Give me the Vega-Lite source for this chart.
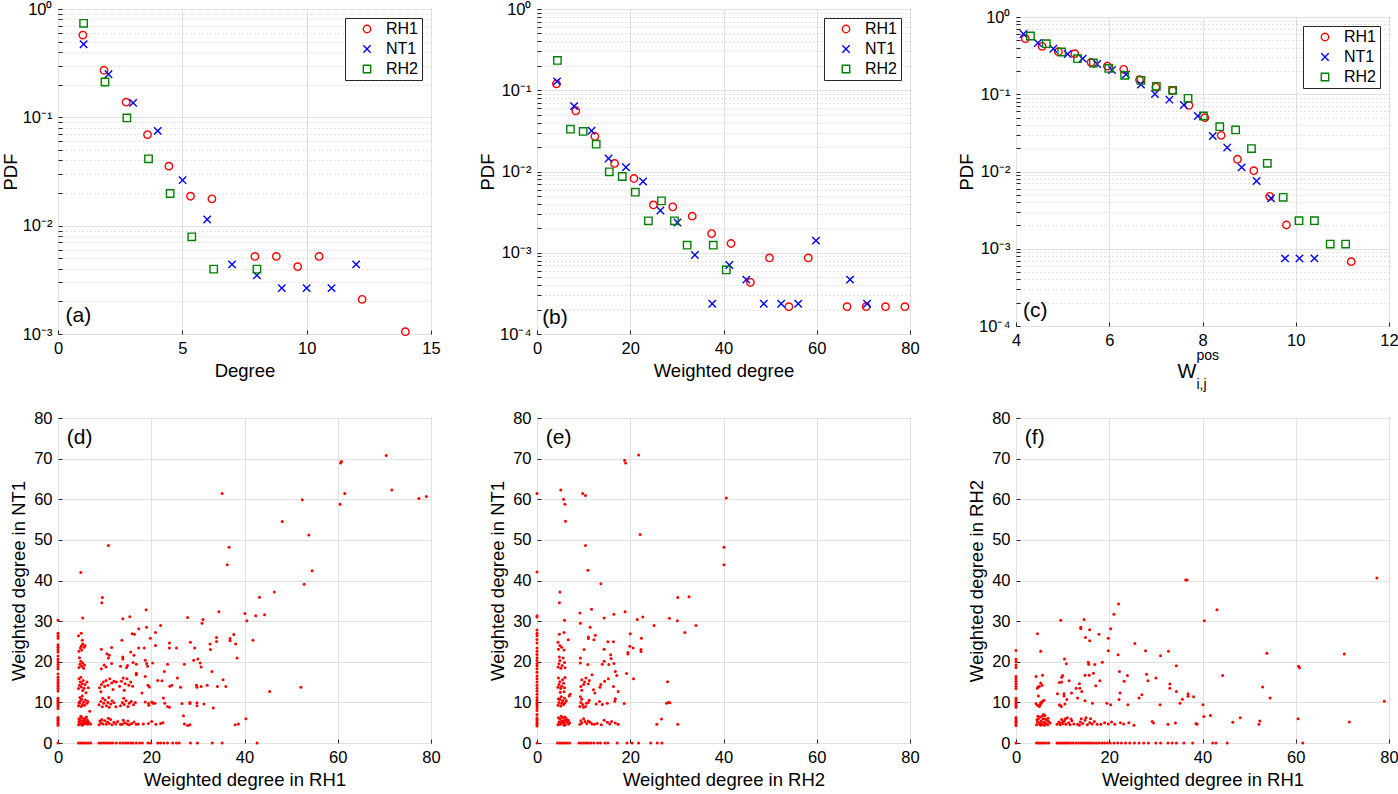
{
"$schema": "https://vega.github.io/schema/vega-lite/v6.json",
"padding": {"left": 0, "top": 0, "right": 0, "bottom": 0},
"config": {
  "font": "Liberation Sans",
  "view": {"stroke": "#262626", "strokeWidth": 1},
  "axis": {"domain": false, "labelFont": "Liberation Sans", "titleFont": "Liberation Sans", "labelFontSize": 16.5, "titleFontSize": 18.5, "titleFontWeight": "normal", "labelColor": "#000000", "titleColor": "#000000", "tickColor": "#262626", "tickSize": -4, "labelPadding": 10, "titlePadding": 5, "gridColor": "#e1e1e1", "gridWidth": 1, "labelFlush": false, "labelOverlap": false},
  "legend": {"labelFont": "Liberation Sans", "labelFontSize": 16, "labelColor": "#000000"}
},
"datasets": {
"pdf": [
{"p":"a","s":"RH1","x":1.0,"y":0.575},{"p":"a","s":"RH1","x":1.85,"y":0.272},{"p":"a","s":"RH1","x":2.74,"y":0.138},{"p":"a","s":"RH1","x":3.6,"y":0.0693},{"p":"a","s":"RH1","x":4.46,"y":0.0354},{"p":"a","s":"RH1","x":5.33,"y":0.0187},{"p":"a","s":"RH1","x":6.19,"y":0.0177},{"p":"a","s":"RH1","x":7.92,"y":0.0052},{"p":"a","s":"RH1","x":8.78,"y":0.0052},{"p":"a","s":"RH1","x":9.64,"y":0.00418},{"p":"a","s":"RH1","x":10.5,"y":0.0052},{"p":"a","s":"RH1","x":12.23,"y":0.00209},{"p":"a","s":"RH1","x":13.97,"y":0.00105},
{"p":"a","s":"NT1","x":1.03,"y":0.472},{"p":"a","s":"NT1","x":2.03,"y":0.25},{"p":"a","s":"NT1","x":3.02,"y":0.136},{"p":"a","s":"NT1","x":4.01,"y":0.075},{"p":"a","s":"NT1","x":5.01,"y":0.0263},{"p":"a","s":"NT1","x":6.0,"y":0.0114},{"p":"a","s":"NT1","x":7.0,"y":0.00439},{"p":"a","s":"NT1","x":8.0,"y":0.00348},{"p":"a","s":"NT1","x":9.0,"y":0.00265},{"p":"a","s":"NT1","x":10.0,"y":0.00265},{"p":"a","s":"NT1","x":11.0,"y":0.00265},{"p":"a","s":"NT1","x":11.99,"y":0.00439},
{"p":"a","s":"RH2","x":1.03,"y":0.738},{"p":"a","s":"RH2","x":1.89,"y":0.212},{"p":"a","s":"RH2","x":2.77,"y":0.0988},{"p":"a","s":"RH2","x":3.64,"y":0.0414},{"p":"a","s":"RH2","x":4.51,"y":0.0198},{"p":"a","s":"RH2","x":5.38,"y":0.00789},{"p":"a","s":"RH2","x":6.26,"y":0.00397},{"p":"a","s":"RH2","x":8.0,"y":0.00397},
{"p":"b","s":"RH1","x":4.16,"y":0.12},{"p":"b","s":"RH1","x":8.32,"y":0.0559},{"p":"b","s":"RH1","x":12.41,"y":0.027},{"p":"b","s":"RH1","x":16.64,"y":0.01256},{"p":"b","s":"RH1","x":20.8,"y":0.0082},{"p":"b","s":"RH1","x":24.96,"y":0.00388},{"p":"b","s":"RH1","x":29.12,"y":0.00367},{"p":"b","s":"RH1","x":33.29,"y":0.00282},{"p":"b","s":"RH1","x":37.45,"y":0.00172},{"p":"b","s":"RH1","x":41.61,"y":0.0013},{"p":"b","s":"RH1","x":45.77,"y":0.000433},{"p":"b","s":"RH1","x":49.86,"y":0.000863},{"p":"b","s":"RH1","x":54.02,"y":0.000217},{"p":"b","s":"RH1","x":58.18,"y":0.000863},{"p":"b","s":"RH1","x":66.5,"y":0.000217},{"p":"b","s":"RH1","x":70.6,"y":0.000217},{"p":"b","s":"RH1","x":74.75,"y":0.000217},{"p":"b","s":"RH1","x":78.9,"y":0.000217},
{"p":"b","s":"NT1","x":4.3,"y":0.1285},{"p":"b","s":"NT1","x":7.96,"y":0.0638},{"p":"b","s":"NT1","x":11.7,"y":0.0317},{"p":"b","s":"NT1","x":15.35,"y":0.01446},{"p":"b","s":"NT1","x":19.08,"y":0.0113},{"p":"b","s":"NT1","x":22.74,"y":0.00753},{"p":"b","s":"NT1","x":26.47,"y":0.00331},{"p":"b","s":"NT1","x":30.13,"y":0.00236},{"p":"b","s":"NT1","x":33.86,"y":0.00094},{"p":"b","s":"NT1","x":37.59,"y":0.000236},{"p":"b","s":"NT1","x":41.25,"y":0.000708},{"p":"b","s":"NT1","x":44.9,"y":0.000467},{"p":"b","s":"NT1","x":48.64,"y":0.000236},{"p":"b","s":"NT1","x":52.37,"y":0.000236},{"p":"b","s":"NT1","x":56.03,"y":0.000236},{"p":"b","s":"NT1","x":59.83,"y":0.00141},{"p":"b","s":"NT1","x":67.14,"y":0.000467},{"p":"b","s":"NT1","x":70.8,"y":0.000236},
{"p":"b","s":"RH2","x":4.38,"y":0.233},{"p":"b","s":"RH2","x":7.17,"y":0.0332},{"p":"b","s":"RH2","x":9.9,"y":0.0311},{"p":"b","s":"RH2","x":12.7,"y":0.0217},{"p":"b","s":"RH2","x":15.5,"y":0.0099},{"p":"b","s":"RH2","x":18.29,"y":0.00868},{"p":"b","s":"RH2","x":21.09,"y":0.00556},{"p":"b","s":"RH2","x":23.89,"y":0.00247},{"p":"b","s":"RH2","x":26.69,"y":0.00435},{"p":"b","s":"RH2","x":29.48,"y":0.00247},{"p":"b","s":"RH2","x":32.2,"y":0.00124},{"p":"b","s":"RH2","x":37.8,"y":0.00124},{"p":"b","s":"RH2","x":40.6,"y":0.000615},
{"p":"c","s":"RH1","x":4.2,"y":0.524},{"p":"c","s":"RH1","x":4.56,"y":0.417},{"p":"c","s":"RH1","x":4.91,"y":0.356},{"p":"c","s":"RH1","x":5.26,"y":0.335},{"p":"c","s":"RH1","x":5.61,"y":0.259},{"p":"c","s":"RH1","x":5.96,"y":0.232},{"p":"c","s":"RH1","x":6.31,"y":0.21},{"p":"c","s":"RH1","x":6.65,"y":0.1545},{"p":"c","s":"RH1","x":7.0,"y":0.124},{"p":"c","s":"RH1","x":7.36,"y":0.1112},{"p":"c","s":"RH1","x":7.71,"y":0.0719},{"p":"c","s":"RH1","x":8.05,"y":0.0497},{"p":"c","s":"RH1","x":8.4,"y":0.0294},{"p":"c","s":"RH1","x":8.75,"y":0.0144},{"p":"c","s":"RH1","x":9.1,"y":0.01025},{"p":"c","s":"RH1","x":9.44,"y":0.00477},{"p":"c","s":"RH1","x":9.8,"y":0.00203},{"p":"c","s":"RH1","x":11.19,"y":0.00068},
{"p":"c","s":"NT1","x":4.16,"y":0.603},{"p":"c","s":"NT1","x":4.47,"y":0.46},{"p":"c","s":"NT1","x":4.8,"y":0.389},{"p":"c","s":"NT1","x":5.11,"y":0.332},{"p":"c","s":"NT1","x":5.43,"y":0.289},{"p":"c","s":"NT1","x":5.74,"y":0.246},{"p":"c","s":"NT1","x":6.06,"y":0.206},{"p":"c","s":"NT1","x":6.36,"y":0.181},{"p":"c","s":"NT1","x":6.68,"y":0.134},{"p":"c","s":"NT1","x":6.98,"y":0.1007},{"p":"c","s":"NT1","x":7.29,"y":0.0851},{"p":"c","s":"NT1","x":7.6,"y":0.0726},{"p":"c","s":"NT1","x":7.9,"y":0.0523},{"p":"c","s":"NT1","x":8.22,"y":0.0288},{"p":"c","s":"NT1","x":8.53,"y":0.0204},{"p":"c","s":"NT1","x":8.84,"y":0.0113},{"p":"c","s":"NT1","x":9.16,"y":0.00754},{"p":"c","s":"NT1","x":9.47,"y":0.0045},{"p":"c","s":"NT1","x":9.77,"y":0.00075},{"p":"c","s":"NT1","x":10.08,"y":0.00075},{"p":"c","s":"NT1","x":10.4,"y":0.00075},
{"p":"c","s":"RH2","x":4.31,"y":0.568},{"p":"c","s":"RH2","x":4.65,"y":0.452},{"p":"c","s":"RH2","x":4.98,"y":0.352},{"p":"c","s":"RH2","x":5.32,"y":0.289},{"p":"c","s":"RH2","x":5.66,"y":0.254},{"p":"c","s":"RH2","x":5.99,"y":0.216},{"p":"c","s":"RH2","x":6.33,"y":0.176},{"p":"c","s":"RH2","x":6.68,"y":0.151},{"p":"c","s":"RH2","x":7.01,"y":0.1265},{"p":"c","s":"RH2","x":7.36,"y":0.1124},{"p":"c","s":"RH2","x":7.69,"y":0.0885},{"p":"c","s":"RH2","x":8.02,"y":0.0523},{"p":"c","s":"RH2","x":8.37,"y":0.038},{"p":"c","s":"RH2","x":8.71,"y":0.0345},{"p":"c","s":"RH2","x":9.05,"y":0.0198},{"p":"c","s":"RH2","x":9.39,"y":0.01276},{"p":"c","s":"RH2","x":9.73,"y":0.00463},{"p":"c","s":"RH2","x":10.07,"y":0.00231},{"p":"c","s":"RH2","x":10.4,"y":0.00231},{"p":"c","s":"RH2","x":10.74,"y":0.00115},{"p":"c","s":"RH2","x":11.07,"y":0.00115}
],
"sc": [
{"p":"d","x":0,"y":0},{"p":"d","x":0,"y":4.4},{"p":"d","x":0,"y":4.8},{"p":"d","x":0,"y":5.2},{"p":"d","x":0,"y":5.6},{"p":"d","x":0,"y":6.0},{"p":"d","x":0,"y":6.3},{"p":"d","x":0,"y":8.5},{"p":"d","x":0,"y":9.0},{"p":"d","x":0,"y":9.4},{"p":"d","x":0,"y":9.8},{"p":"d","x":0,"y":10.2},{"p":"d","x":0,"y":10.6},{"p":"d","x":0,"y":11.0},{"p":"d","x":0,"y":12.8},{"p":"d","x":0,"y":13.4},{"p":"d","x":0,"y":14.0},{"p":"d","x":0,"y":14.5},{"p":"d","x":0,"y":15.0},{"p":"d","x":0,"y":15.6},{"p":"d","x":0,"y":16.2},{"p":"d","x":0,"y":17.0},{"p":"d","x":0,"y":18.2},{"p":"d","x":0,"y":18.8},{"p":"d","x":0,"y":19.4},{"p":"d","x":0,"y":20.0},{"p":"d","x":0,"y":20.6},{"p":"d","x":0,"y":21.4},{"p":"d","x":0,"y":22.4},{"p":"d","x":0,"y":23.0},{"p":"d","x":0,"y":23.6},{"p":"d","x":0,"y":24.2},{"p":"d","x":0,"y":25.8},{"p":"d","x":0,"y":26.4},{"p":"d","x":0,"y":27.0},{"p":"d","x":0,"y":30.2},
{"p":"d","x":4.4,"y":0},{"p":"d","x":4.8,"y":0},{"p":"d","x":5.2,"y":0},{"p":"d","x":5.6,"y":0},{"p":"d","x":6.0,"y":0},{"p":"d","x":6.5,"y":0},{"p":"d","x":7.0,"y":0},{"p":"d","x":8.8,"y":0},{"p":"d","x":9.3,"y":0},{"p":"d","x":9.8,"y":0},{"p":"d","x":10.3,"y":0},{"p":"d","x":10.8,"y":0},{"p":"d","x":11.3,"y":0},{"p":"d","x":11.8,"y":0},{"p":"d","x":12.5,"y":0},{"p":"d","x":13.3,"y":0},{"p":"d","x":13.9,"y":0},{"p":"d","x":14.5,"y":0},{"p":"d","x":15.0,"y":0},{"p":"d","x":15.6,"y":0},{"p":"d","x":16.1,"y":0},{"p":"d","x":16.8,"y":0},{"p":"d","x":17.5,"y":0},{"p":"d","x":18.1,"y":0},{"p":"d","x":19.3,"y":0},{"p":"d","x":19.9,"y":0},{"p":"d","x":21.4,"y":0},{"p":"d","x":22.0,"y":0},{"p":"d","x":22.7,"y":0},{"p":"d","x":23.5,"y":0},{"p":"d","x":24.6,"y":0},{"p":"d","x":25.4,"y":0},{"p":"d","x":26.0,"y":0},{"p":"d","x":28.4,"y":0},{"p":"d","x":29.9,"y":0},{"p":"d","x":33.1,"y":0},{"p":"d","x":35.2,"y":0},{"p":"d","x":42.7,"y":0},
{"p":"d","x":4.4,"y":4.5},{"p":"d","x":4.6,"y":5.0},{"p":"d","x":4.8,"y":5.6},{"p":"d","x":5.0,"y":4.7},{"p":"d","x":5.1,"y":6.2},{"p":"d","x":5.3,"y":5.2},{"p":"d","x":5.5,"y":4.6},{"p":"d","x":5.6,"y":5.9},{"p":"d","x":5.8,"y":5.3},{"p":"d","x":6.0,"y":4.8},{"p":"d","x":6.1,"y":6.4},{"p":"d","x":6.3,"y":5.6},{"p":"d","x":4.5,"y":6.0},{"p":"d","x":4.9,"y":6.6},{"p":"d","x":5.4,"y":5.5},{"p":"d","x":5.7,"y":4.9},{"p":"d","x":6.4,"y":4.6},{"p":"d","x":6.6,"y":5.1},{"p":"d","x":7.0,"y":4.7},{"p":"d","x":4.7,"y":4.9},{"p":"d","x":5.2,"y":4.4},{"p":"d","x":5.9,"y":6.1},{"p":"d","x":6.2,"y":5.0},{"p":"d","x":4.5,"y":5.3},
{"p":"d","x":4.4,"y":9.2},{"p":"d","x":4.6,"y":9.8},{"p":"d","x":4.8,"y":10.4},{"p":"d","x":5.0,"y":9.0},{"p":"d","x":5.1,"y":10.8},{"p":"d","x":5.3,"y":9.5},{"p":"d","x":5.5,"y":10.1},{"p":"d","x":5.7,"y":9.3},{"p":"d","x":4.7,"y":11.2},{"p":"d","x":5.9,"y":10.6},{"p":"d","x":6.2,"y":9.8},{"p":"d","x":6.4,"y":10.2},{"p":"d","x":5.2,"y":11.6},{"p":"d","x":4.5,"y":10.0},{"p":"d","x":6.8,"y":7.8},
{"p":"d","x":4.4,"y":13.4},{"p":"d","x":4.6,"y":14.2},{"p":"d","x":4.8,"y":15.0},{"p":"d","x":5.0,"y":13.8},{"p":"d","x":5.2,"y":14.6},{"p":"d","x":5.4,"y":15.4},{"p":"d","x":5.6,"y":13.5},{"p":"d","x":4.5,"y":15.8},{"p":"d","x":5.8,"y":14.4},{"p":"d","x":6.2,"y":15.0},{"p":"d","x":6.5,"y":13.6},{"p":"d","x":6.0,"y":12.4},{"p":"d","x":4.9,"y":16.2},{"p":"d","x":5.3,"y":12.9},
{"p":"d","x":4.5,"y":18.6},{"p":"d","x":4.7,"y":19.4},{"p":"d","x":4.9,"y":20.1},{"p":"d","x":5.1,"y":18.9},{"p":"d","x":5.3,"y":19.7},{"p":"d","x":5.5,"y":18.4},{"p":"d","x":4.6,"y":21.0},{"p":"d","x":5.7,"y":19.2},
{"p":"d","x":4.5,"y":22.6},{"p":"d","x":4.8,"y":23.4},{"p":"d","x":5.0,"y":23.9},{"p":"d","x":5.3,"y":24.4},{"p":"d","x":5.1,"y":22.9},{"p":"d","x":4.4,"y":26.4},{"p":"d","x":5.0,"y":27.0},{"p":"d","x":5.6,"y":23.6},{"p":"d","x":5.2,"y":25.3},{"p":"d","x":5.8,"y":24.0},{"p":"d","x":4.9,"y":42.0},{"p":"d","x":5.3,"y":30.8},
{"p":"d","x":8.8,"y":4.5},{"p":"d","x":9.2,"y":5.0},{"p":"d","x":9.6,"y":4.7},{"p":"d","x":10.0,"y":5.5},{"p":"d","x":10.3,"y":4.6},{"p":"d","x":10.6,"y":5.2},{"p":"d","x":11.0,"y":4.8},{"p":"d","x":11.3,"y":5.8},{"p":"d","x":11.6,"y":4.5},{"p":"d","x":12.0,"y":5.1},{"p":"d","x":12.4,"y":4.7},{"p":"d","x":9.4,"y":5.8},{"p":"d","x":10.8,"y":6.1},{"p":"d","x":9.0,"y":5.4},{"p":"d","x":12.8,"y":5.3},{"p":"d","x":13.4,"y":4.6},
{"p":"d","x":8.8,"y":9.4},{"p":"d","x":9.2,"y":10.2},{"p":"d","x":9.5,"y":8.9},{"p":"d","x":9.8,"y":9.8},{"p":"d","x":10.1,"y":10.6},{"p":"d","x":10.4,"y":9.2},{"p":"d","x":10.7,"y":10.0},{"p":"d","x":11.0,"y":8.8},{"p":"d","x":11.3,"y":9.6},{"p":"d","x":11.6,"y":10.4},{"p":"d","x":12.0,"y":9.9},{"p":"d","x":9.6,"y":11.0},{"p":"d","x":10.9,"y":11.2},{"p":"d","x":12.4,"y":8.9},
{"p":"d","x":8.9,"y":13.6},{"p":"d","x":9.3,"y":14.4},{"p":"d","x":9.7,"y":15.0},{"p":"d","x":10.0,"y":13.9},{"p":"d","x":10.3,"y":15.4},{"p":"d","x":10.7,"y":14.2},{"p":"d","x":11.1,"y":15.8},{"p":"d","x":11.5,"y":14.8},{"p":"d","x":12.0,"y":15.2},{"p":"d","x":12.5,"y":15.0},{"p":"d","x":9.2,"y":12.6},{"p":"d","x":11.8,"y":13.2},
{"p":"d","x":9.3,"y":18.3},{"p":"d","x":9.9,"y":19.2},{"p":"d","x":10.3,"y":18.7},{"p":"d","x":10.8,"y":20.9},{"p":"d","x":11.0,"y":21.6},{"p":"d","x":11.5,"y":19.6},{"p":"d","x":11.5,"y":23.5},{"p":"d","x":9.3,"y":23.1},{"p":"d","x":10.5,"y":22.0},{"p":"d","x":10.8,"y":48.6},{"p":"d","x":9.5,"y":35.8},{"p":"d","x":9.4,"y":34.5},
{"p":"d","x":13.8,"y":4.6},{"p":"d","x":14.3,"y":5.0},{"p":"d","x":14.8,"y":4.7},{"p":"d","x":15.3,"y":4.5},{"p":"d","x":15.8,"y":4.8},{"p":"d","x":16.3,"y":5.2},{"p":"d","x":16.8,"y":4.6},{"p":"d","x":17.2,"y":4.7},{"p":"d","x":14.0,"y":5.6},{"p":"d","x":15.0,"y":5.4},
{"p":"d","x":13.4,"y":9.2},{"p":"d","x":13.8,"y":10.0},{"p":"d","x":14.2,"y":9.5},{"p":"d","x":14.6,"y":10.4},{"p":"d","x":15.0,"y":9.0},{"p":"d","x":15.3,"y":9.8},{"p":"d","x":15.7,"y":10.2},{"p":"d","x":16.2,"y":9.4},{"p":"d","x":16.6,"y":10.0},{"p":"d","x":14.1,"y":11.0},
{"p":"d","x":13.2,"y":14.0},{"p":"d","x":13.6,"y":15.2},{"p":"d","x":14.0,"y":16.0},{"p":"d","x":14.4,"y":14.6},{"p":"d","x":14.8,"y":15.8},{"p":"d","x":15.2,"y":14.2},{"p":"d","x":15.6,"y":15.0},{"p":"d","x":16.0,"y":14.0},{"p":"d","x":14.2,"y":13.0},{"p":"d","x":16.8,"y":16.8},{"p":"d","x":16.8,"y":17.2},
{"p":"d","x":13.4,"y":18.9},{"p":"d","x":13.9,"y":21.2},{"p":"d","x":13.9,"y":20.7},{"p":"d","x":13.7,"y":25.3},{"p":"d","x":14.7,"y":18.6},{"p":"d","x":14.9,"y":19.1},{"p":"d","x":15.6,"y":22.4},{"p":"d","x":16.3,"y":21.6},{"p":"d","x":16.1,"y":19.8},{"p":"d","x":15.9,"y":26.9},{"p":"d","x":16.4,"y":26.8},{"p":"d","x":16.8,"y":19.4},{"p":"d","x":17.3,"y":23.4},{"p":"d","x":17.3,"y":28.1},{"p":"d","x":13.9,"y":30.6},{"p":"d","x":15.4,"y":31.1},
{"p":"d","x":18.0,"y":12.3},{"p":"d","x":18.5,"y":23.4},{"p":"d","x":18.7,"y":20.4},{"p":"d","x":19.0,"y":19.6},{"p":"d","x":19.2,"y":18.9},{"p":"d","x":18.7,"y":16.4},{"p":"d","x":19.3,"y":14.2},{"p":"d","x":19.6,"y":13.8},{"p":"d","x":18.7,"y":10.1},{"p":"d","x":19.4,"y":9.7},{"p":"d","x":20.1,"y":10.1},{"p":"d","x":20.4,"y":9.8},{"p":"d","x":20.8,"y":9.8},{"p":"d","x":19.5,"y":9.3},{"p":"d","x":20.1,"y":5.3},{"p":"d","x":19.4,"y":4.8},{"p":"d","x":21.0,"y":4.6},{"p":"d","x":22.0,"y":4.8},{"p":"d","x":22.5,"y":5.0},{"p":"d","x":18.3,"y":4.7},{"p":"d","x":19.8,"y":25.8},{"p":"d","x":19.0,"y":28.5},{"p":"d","x":20.3,"y":19.7},{"p":"d","x":20.9,"y":27.2},{"p":"d","x":20.9,"y":24.0},{"p":"d","x":21.4,"y":15.4},{"p":"d","x":22.3,"y":15.3},{"p":"d","x":22.0,"y":28.9},{"p":"d","x":22.8,"y":17.6},{"p":"d","x":22.6,"y":11.1},{"p":"d","x":22.9,"y":9.8},{"p":"d","x":23.5,"y":9.0},{"p":"d","x":23.9,"y":8.8},{"p":"d","x":23.5,"y":19.4},{"p":"d","x":23.9,"y":24.6},{"p":"d","x":23.9,"y":23.4},{"p":"d","x":24.0,"y":14.0},{"p":"d","x":24.4,"y":14.2},{"p":"d","x":18.9,"y":32.8},
{"p":"d","x":25.4,"y":23.4},{"p":"d","x":25.6,"y":16.0},{"p":"d","x":26.3,"y":13.7},{"p":"d","x":26.6,"y":9.7},{"p":"d","x":26.9,"y":6.7},{"p":"d","x":27.1,"y":19.4},{"p":"d","x":27.1,"y":4.7},{"p":"d","x":27.8,"y":4.3},{"p":"d","x":28.3,"y":4.5},{"p":"d","x":28.3,"y":10.0},{"p":"d","x":28.3,"y":9.7},{"p":"d","x":28.4,"y":24.8},{"p":"d","x":29.1,"y":20.4},{"p":"d","x":29.3,"y":23.4},{"p":"d","x":29.7,"y":14.2},{"p":"d","x":29.8,"y":13.7},{"p":"d","x":29.8,"y":9.9},{"p":"d","x":29.8,"y":9.2},{"p":"d","x":30.0,"y":20.7},{"p":"d","x":30.5,"y":19.7},{"p":"d","x":30.7,"y":18.7},{"p":"d","x":30.7,"y":13.9},{"p":"d","x":31.3,"y":9.6},{"p":"d","x":27.8,"y":30.9},{"p":"d","x":31.1,"y":30.4},{"p":"d","x":30.9,"y":29.5},{"p":"d","x":32.0,"y":14.2},{"p":"d","x":32.6,"y":24.4},{"p":"d","x":32.7,"y":23.0},{"p":"d","x":33.0,"y":17.6},{"p":"d","x":33.3,"y":8.6},{"p":"d","x":34.0,"y":26.0},{"p":"d","x":34.0,"y":25.0},{"p":"d","x":34.2,"y":13.9},{"p":"d","x":34.5,"y":32.3},{"p":"d","x":35.4,"y":15.6},{"p":"d","x":36.0,"y":13.9},{"p":"d","x":35.2,"y":61.4},{"p":"d","x":36.7,"y":48.2},{"p":"d","x":36.3,"y":43.9},{"p":"d","x":36.9,"y":25.7},{"p":"d","x":36.9,"y":25.2},{"p":"d","x":37.7,"y":26.7},{"p":"d","x":38.1,"y":24.4},{"p":"d","x":38.4,"y":20.9},{"p":"d","x":38.0,"y":4.5},{"p":"d","x":38.7,"y":4.7},{"p":"d","x":40.3,"y":6.0},{"p":"d","x":40.1,"y":31.9},{"p":"d","x":40.5,"y":30.1},{"p":"d","x":41.8,"y":25.3},{"p":"d","x":42.4,"y":31.3},{"p":"d","x":43.2,"y":35.9},{"p":"d","x":44.3,"y":31.6},{"p":"d","x":45.4,"y":12.7},{"p":"d","x":46.4,"y":37.2},{"p":"d","x":48.1,"y":54.5},{"p":"d","x":52.1,"y":13.7},{"p":"d","x":52.4,"y":59.9},{"p":"d","x":52.8,"y":39.1},{"p":"d","x":53.8,"y":51.2},{"p":"d","x":54.5,"y":42.4},{"p":"d","x":60.5,"y":58.8},{"p":"d","x":60.6,"y":68.9},{"p":"d","x":60.8,"y":69.3},{"p":"d","x":61.5,"y":61.4},{"p":"d","x":70.4,"y":70.8},{"p":"d","x":71.6,"y":62.3},{"p":"d","x":77.4,"y":60.2},{"p":"d","x":79.0,"y":60.7},
{"p":"e","x":0,"y":0},{"p":"e","x":0,"y":4.2},{"p":"e","x":0,"y":4.6},{"p":"e","x":0,"y":5.0},{"p":"e","x":0,"y":5.4},{"p":"e","x":0,"y":5.8},{"p":"e","x":0,"y":6.2},{"p":"e","x":0,"y":7.0},{"p":"e","x":0,"y":8.0},{"p":"e","x":0,"y":8.6},{"p":"e","x":0,"y":9.2},{"p":"e","x":0,"y":9.6},{"p":"e","x":0,"y":10.0},{"p":"e","x":0,"y":10.5},{"p":"e","x":0,"y":11.2},{"p":"e","x":0,"y":12.0},{"p":"e","x":0,"y":12.8},{"p":"e","x":0,"y":13.5},{"p":"e","x":0,"y":14.2},{"p":"e","x":0,"y":15.0},{"p":"e","x":0,"y":15.8},{"p":"e","x":0,"y":16.5},{"p":"e","x":0,"y":17.4},{"p":"e","x":0,"y":18.3},{"p":"e","x":0,"y":19.0},{"p":"e","x":0,"y":19.6},{"p":"e","x":0,"y":20.3},{"p":"e","x":0,"y":21.0},{"p":"e","x":0,"y":21.8},{"p":"e","x":0,"y":22.6},{"p":"e","x":0,"y":23.4},{"p":"e","x":0,"y":24.6},{"p":"e","x":0,"y":25.5},{"p":"e","x":0,"y":26.4},{"p":"e","x":0,"y":27.0},{"p":"e","x":0,"y":27.8},{"p":"e","x":0,"y":31.0},{"p":"e","x":0,"y":31.3},{"p":"e","x":0,"y":42.1},{"p":"e","x":0,"y":61.4},
{"p":"e","x":4.4,"y":0},{"p":"e","x":4.8,"y":0},{"p":"e","x":5.2,"y":0},{"p":"e","x":5.6,"y":0},{"p":"e","x":6.0,"y":0},{"p":"e","x":6.5,"y":0},{"p":"e","x":7.0,"y":0},{"p":"e","x":9.0,"y":0},{"p":"e","x":9.5,"y":0},{"p":"e","x":10.0,"y":0},{"p":"e","x":10.5,"y":0},{"p":"e","x":11.0,"y":0},{"p":"e","x":11.6,"y":0},{"p":"e","x":12.2,"y":0},{"p":"e","x":13.0,"y":0},{"p":"e","x":13.6,"y":0},{"p":"e","x":14.6,"y":0},{"p":"e","x":15.2,"y":0},{"p":"e","x":17.2,"y":0},{"p":"e","x":19.3,"y":0},{"p":"e","x":20.4,"y":0},{"p":"e","x":21.8,"y":0},{"p":"e","x":24.4,"y":0},{"p":"e","x":25.8,"y":0},{"p":"e","x":26.8,"y":0},
{"p":"e","x":4.5,"y":4.5},{"p":"e","x":4.7,"y":5.2},{"p":"e","x":4.9,"y":5.9},{"p":"e","x":5.1,"y":4.7},{"p":"e","x":5.3,"y":5.5},{"p":"e","x":5.5,"y":6.3},{"p":"e","x":5.7,"y":4.9},{"p":"e","x":5.9,"y":5.7},{"p":"e","x":6.1,"y":4.5},{"p":"e","x":6.3,"y":6.0},{"p":"e","x":6.5,"y":5.1},{"p":"e","x":6.7,"y":5.6},{"p":"e","x":7.0,"y":5.0},{"p":"e","x":4.6,"y":6.2},{"p":"e","x":5.2,"y":6.6},{"p":"e","x":5.8,"y":4.4},{"p":"e","x":6.2,"y":5.3},{"p":"e","x":6.8,"y":4.7},{"p":"e","x":5.0,"y":5.0},{"p":"e","x":5.6,"y":5.2},{"p":"e","x":6.0,"y":6.4},{"p":"e","x":4.8,"y":4.6},
{"p":"e","x":4.5,"y":9.3},{"p":"e","x":4.7,"y":10.0},{"p":"e","x":4.9,"y":10.7},{"p":"e","x":5.1,"y":9.1},{"p":"e","x":5.3,"y":9.8},{"p":"e","x":5.5,"y":10.4},{"p":"e","x":5.7,"y":9.5},{"p":"e","x":5.9,"y":11.0},{"p":"e","x":4.6,"y":10.9},{"p":"e","x":5.2,"y":11.4},{"p":"e","x":6.0,"y":9.9},{"p":"e","x":6.3,"y":10.4},{"p":"e","x":6.9,"y":11.6},{"p":"e","x":7.1,"y":12.0},{"p":"e","x":5.8,"y":12.6},
{"p":"e","x":4.5,"y":13.7},{"p":"e","x":4.7,"y":14.4},{"p":"e","x":4.9,"y":15.1},{"p":"e","x":5.1,"y":13.4},{"p":"e","x":5.3,"y":14.0},{"p":"e","x":5.5,"y":15.6},{"p":"e","x":5.7,"y":14.7},{"p":"e","x":4.6,"y":16.0},{"p":"e","x":5.9,"y":13.6},{"p":"e","x":5.0,"y":12.5},{"p":"e","x":6.0,"y":16.1},
{"p":"e","x":4.5,"y":18.7},{"p":"e","x":4.7,"y":19.5},{"p":"e","x":4.9,"y":20.3},{"p":"e","x":5.1,"y":18.4},{"p":"e","x":5.4,"y":19.1},{"p":"e","x":5.6,"y":20.9},{"p":"e","x":5.9,"y":19.8},{"p":"e","x":4.8,"y":21.2},{"p":"e","x":6.0,"y":18.5},
{"p":"e","x":4.6,"y":23.1},{"p":"e","x":4.9,"y":24.0},{"p":"e","x":5.3,"y":23.6},{"p":"e","x":5.8,"y":22.9},{"p":"e","x":4.8,"y":26.8},{"p":"e","x":5.8,"y":27.2},{"p":"e","x":6.7,"y":25.4},{"p":"e","x":4.5,"y":24.8},{"p":"e","x":5.1,"y":62.3},{"p":"e","x":5.7,"y":60.0},{"p":"e","x":6.0,"y":58.8},{"p":"e","x":6.1,"y":54.6},{"p":"e","x":4.9,"y":37.2},{"p":"e","x":4.8,"y":34.5},{"p":"e","x":5.9,"y":30.2},
{"p":"e","x":9.2,"y":4.6},{"p":"e","x":9.6,"y":4.9},{"p":"e","x":10.0,"y":6.0},{"p":"e","x":10.3,"y":5.3},{"p":"e","x":10.7,"y":4.8},{"p":"e","x":11.0,"y":5.4},{"p":"e","x":11.4,"y":5.1},{"p":"e","x":11.8,"y":4.7},{"p":"e","x":12.3,"y":4.6},{"p":"e","x":12.9,"y":4.8},{"p":"e","x":9.4,"y":5.5},
{"p":"e","x":9.2,"y":9.0},{"p":"e","x":9.4,"y":10.0},{"p":"e","x":9.6,"y":10.8},{"p":"e","x":9.8,"y":9.5},{"p":"e","x":10.0,"y":8.8},{"p":"e","x":10.4,"y":9.0},{"p":"e","x":10.6,"y":9.8},{"p":"e","x":11.0,"y":10.0},{"p":"e","x":11.2,"y":10.5},{"p":"e","x":12.7,"y":9.6},{"p":"e","x":9.3,"y":11.4},
{"p":"e","x":9.4,"y":13.9},{"p":"e","x":9.6,"y":13.0},{"p":"e","x":9.6,"y":15.6},{"p":"e","x":10.0,"y":14.4},{"p":"e","x":10.5,"y":16.0},{"p":"e","x":10.2,"y":15.0},{"p":"e","x":11.0,"y":14.6},{"p":"e","x":11.8,"y":16.8},{"p":"e","x":12.1,"y":13.1},{"p":"e","x":12.4,"y":12.3},{"p":"e","x":13.5,"y":13.7},{"p":"e","x":13.7,"y":14.4},{"p":"e","x":11.2,"y":15.4},
{"p":"e","x":9.3,"y":20.9},{"p":"e","x":9.3,"y":19.7},{"p":"e","x":10.9,"y":19.3},{"p":"e","x":10.1,"y":23.0},{"p":"e","x":11.0,"y":25.7},{"p":"e","x":11.0,"y":26.1},{"p":"e","x":12.5,"y":26.5},{"p":"e","x":12.2,"y":25.4},{"p":"e","x":11.4,"y":28.5},{"p":"e","x":9.2,"y":32.0},{"p":"e","x":9.3,"y":29.5},{"p":"e","x":11.7,"y":32.9},{"p":"e","x":9.8,"y":61.4},{"p":"e","x":10.4,"y":60.9},{"p":"e","x":10.4,"y":48.6},{"p":"e","x":10.9,"y":42.5},{"p":"e","x":13.7,"y":39.2},
{"p":"e","x":14.4,"y":5.6},{"p":"e","x":15.1,"y":5.1},{"p":"e","x":16.0,"y":5.3},{"p":"e","x":16.8,"y":4.9},{"p":"e","x":17.4,"y":4.6},{"p":"e","x":15.6,"y":4.7},{"p":"e","x":13.8,"y":4.5},{"p":"e","x":15.1,"y":9.8},{"p":"e","x":14.5,"y":15.2},{"p":"e","x":15.3,"y":15.8},{"p":"e","x":16.4,"y":13.9},{"p":"e","x":16.8,"y":10.9},{"p":"e","x":16.7,"y":10.3},{"p":"e","x":17.4,"y":12.7},{"p":"e","x":17.1,"y":16.6},{"p":"e","x":16.8,"y":17.6},{"p":"e","x":16.5,"y":19.6},{"p":"e","x":16.4,"y":24.9},{"p":"e","x":15.2,"y":24.9},{"p":"e","x":15.4,"y":19.3},{"p":"e","x":15.8,"y":21.7},{"p":"e","x":14.4,"y":23.1},{"p":"e","x":14.4,"y":20.1},{"p":"e","x":14.0,"y":19.4},{"p":"e","x":15.9,"y":20.8},{"p":"e","x":14.4,"y":30.8},{"p":"e","x":16.5,"y":31.7},{"p":"e","x":14.0,"y":9.5},{"p":"e","x":13.4,"y":10.2},
{"p":"e","x":18.8,"y":69.6},{"p":"e","x":19.0,"y":68.9},{"p":"e","x":21.8,"y":70.9},{"p":"e","x":22.1,"y":51.3},{"p":"e","x":18.9,"y":32.3},{"p":"e","x":21.5,"y":30.4},{"p":"e","x":22.7,"y":31.0},{"p":"e","x":20.0,"y":26.9},{"p":"e","x":22.4,"y":25.8},{"p":"e","x":22.3,"y":23.0},{"p":"e","x":22.3,"y":22.5},{"p":"e","x":20.6,"y":23.4},{"p":"e","x":19.5,"y":22.3},{"p":"e","x":19.5,"y":21.9},{"p":"e","x":19.9,"y":23.8},{"p":"e","x":20.7,"y":15.8},{"p":"e","x":19.2,"y":17.1},{"p":"e","x":18.7,"y":9.7},{"p":"e","x":25.1,"y":28.9},{"p":"e","x":28.4,"y":30.7},{"p":"e","x":30.1,"y":30.1},{"p":"e","x":30.2,"y":35.8},{"p":"e","x":32.6,"y":36.0},{"p":"e","x":31.7,"y":27.2},{"p":"e","x":34.1,"y":28.9},{"p":"e","x":28.0,"y":15.1},{"p":"e","x":27.8,"y":9.8},{"p":"e","x":28.2,"y":10.0},{"p":"e","x":28.5,"y":9.9},{"p":"e","x":26.7,"y":5.9},{"p":"e","x":25.7,"y":4.6},{"p":"e","x":30.2,"y":4.6},{"p":"e","x":40.1,"y":48.2},{"p":"e","x":40.1,"y":43.9},{"p":"e","x":40.6,"y":60.3},
{"p":"f","x":0,"y":0},{"p":"f","x":0,"y":4.3},{"p":"f","x":0,"y":4.7},{"p":"f","x":0,"y":5.1},{"p":"f","x":0,"y":5.5},{"p":"f","x":0,"y":5.9},{"p":"f","x":0,"y":6.3},{"p":"f","x":0,"y":8.8},{"p":"f","x":0,"y":9.3},{"p":"f","x":0,"y":9.7},{"p":"f","x":0,"y":10.1},{"p":"f","x":0,"y":10.6},{"p":"f","x":0,"y":11.0},{"p":"f","x":0,"y":13.4},{"p":"f","x":0,"y":14.0},{"p":"f","x":0,"y":14.6},{"p":"f","x":0,"y":15.2},{"p":"f","x":0,"y":15.8},{"p":"f","x":0,"y":16.4},{"p":"f","x":0,"y":18.6},{"p":"f","x":0,"y":19.2},{"p":"f","x":0,"y":20.0},{"p":"f","x":0,"y":20.6},{"p":"f","x":0,"y":22.8},
{"p":"f","x":4.4,"y":0},{"p":"f","x":4.8,"y":0},{"p":"f","x":5.2,"y":0},{"p":"f","x":5.6,"y":0},{"p":"f","x":6.0,"y":0},{"p":"f","x":6.5,"y":0},{"p":"f","x":7.0,"y":0},{"p":"f","x":8.8,"y":0},{"p":"f","x":9.2,"y":0},{"p":"f","x":9.6,"y":0},{"p":"f","x":10.0,"y":0},{"p":"f","x":10.4,"y":0},{"p":"f","x":10.8,"y":0},{"p":"f","x":11.2,"y":0},{"p":"f","x":11.7,"y":0},{"p":"f","x":12.2,"y":0},{"p":"f","x":12.8,"y":0},{"p":"f","x":13.4,"y":0},{"p":"f","x":14.0,"y":0},{"p":"f","x":14.5,"y":0},{"p":"f","x":15.0,"y":0},{"p":"f","x":15.5,"y":0},{"p":"f","x":16.0,"y":0},{"p":"f","x":16.6,"y":0},{"p":"f","x":17.2,"y":0},{"p":"f","x":17.8,"y":0},{"p":"f","x":18.4,"y":0},{"p":"f","x":19.0,"y":0},{"p":"f","x":19.6,"y":0},{"p":"f","x":20.2,"y":0},{"p":"f","x":21.0,"y":0},{"p":"f","x":21.8,"y":0},{"p":"f","x":22.6,"y":0},{"p":"f","x":23.5,"y":0},{"p":"f","x":24.4,"y":0},{"p":"f","x":25.4,"y":0},{"p":"f","x":26.4,"y":0},{"p":"f","x":27.4,"y":0},{"p":"f","x":28.4,"y":0},{"p":"f","x":30.0,"y":0},{"p":"f","x":31.0,"y":0},{"p":"f","x":32.6,"y":0},{"p":"f","x":33.5,"y":0},{"p":"f","x":34.4,"y":0},{"p":"f","x":36.0,"y":0},{"p":"f","x":37.9,"y":0},{"p":"f","x":42.2,"y":0},{"p":"f","x":42.9,"y":0},{"p":"f","x":45.3,"y":0},{"p":"f","x":61.5,"y":0},
{"p":"f","x":4.4,"y":4.5},{"p":"f","x":4.6,"y":5.2},{"p":"f","x":4.8,"y":5.9},{"p":"f","x":5.0,"y":4.7},{"p":"f","x":5.2,"y":6.4},{"p":"f","x":5.4,"y":5.4},{"p":"f","x":5.6,"y":4.6},{"p":"f","x":5.8,"y":6.0},{"p":"f","x":6.0,"y":5.1},{"p":"f","x":6.2,"y":6.8},{"p":"f","x":6.4,"y":4.8},{"p":"f","x":6.6,"y":5.6},{"p":"f","x":6.8,"y":4.5},{"p":"f","x":7.0,"y":5.3},{"p":"f","x":4.7,"y":6.6},{"p":"f","x":5.3,"y":4.4},{"p":"f","x":5.9,"y":7.0},{"p":"f","x":6.3,"y":5.9},{"p":"f","x":4.5,"y":5.7},{"p":"f","x":5.1,"y":5.0},{"p":"f","x":5.7,"y":6.7},{"p":"f","x":6.1,"y":4.4},{"p":"f","x":6.9,"y":6.1},{"p":"f","x":7.3,"y":4.9},
{"p":"f","x":4.3,"y":9.7},{"p":"f","x":4.8,"y":11.6},{"p":"f","x":5.3,"y":10.0},{"p":"f","x":5.7,"y":10.3},{"p":"f","x":4.6,"y":9.3},{"p":"f","x":5.0,"y":9.0},{"p":"f","x":5.4,"y":9.8},{"p":"f","x":6.0,"y":10.5},{"p":"f","x":5.2,"y":9.4},
{"p":"f","x":4.6,"y":13.5},{"p":"f","x":5.0,"y":13.9},{"p":"f","x":5.3,"y":14.8},{"p":"f","x":4.3,"y":16.4},{"p":"f","x":5.7,"y":16.7},{"p":"f","x":5.6,"y":14.2},{"p":"f","x":4.7,"y":13.8},{"p":"f","x":5.3,"y":22.6},{"p":"f","x":4.6,"y":26.9},
{"p":"f","x":8.8,"y":4.6},{"p":"f","x":9.2,"y":5.2},{"p":"f","x":9.5,"y":4.5},{"p":"f","x":9.8,"y":5.8},{"p":"f","x":10.1,"y":4.8},{"p":"f","x":10.4,"y":5.4},{"p":"f","x":10.7,"y":4.6},{"p":"f","x":11.0,"y":6.2},{"p":"f","x":11.3,"y":5.0},{"p":"f","x":11.6,"y":4.5},{"p":"f","x":12.0,"y":5.5},{"p":"f","x":12.4,"y":4.7},{"p":"f","x":9.4,"y":4.9},{"p":"f","x":10.6,"y":6.0},{"p":"f","x":11.8,"y":5.9},{"p":"f","x":10.0,"y":5.2},
{"p":"f","x":9.3,"y":9.4},{"p":"f","x":8.9,"y":12.1},{"p":"f","x":9.6,"y":9.2},{"p":"f","x":10.3,"y":12.1},{"p":"f","x":10.3,"y":11.6},{"p":"f","x":10.9,"y":10.7},{"p":"f","x":11.9,"y":12.3},{"p":"f","x":9.7,"y":9.0},{"p":"f","x":10.5,"y":9.6},
{"p":"f","x":9.3,"y":14.9},{"p":"f","x":10.0,"y":16.6},{"p":"f","x":9.8,"y":16.2},{"p":"f","x":10.4,"y":20.7},{"p":"f","x":10.8,"y":19.5},{"p":"f","x":11.4,"y":15.3},{"p":"f","x":9.8,"y":15.0},{"p":"f","x":9.6,"y":30.2},
{"p":"f","x":13.2,"y":4.6},{"p":"f","x":13.8,"y":5.2},{"p":"f","x":14.3,"y":4.8},{"p":"f","x":14.8,"y":5.6},{"p":"f","x":15.3,"y":4.5},{"p":"f","x":15.8,"y":5.0},{"p":"f","x":16.3,"y":4.7},{"p":"f","x":16.8,"y":5.3},{"p":"f","x":17.4,"y":4.6},{"p":"f","x":14.0,"y":6.0},{"p":"f","x":15.0,"y":6.2},{"p":"f","x":16.0,"y":6.0},{"p":"f","x":13.6,"y":4.4},{"p":"f","x":12.9,"y":13.5},{"p":"f","x":13.2,"y":11.1},{"p":"f","x":14.8,"y":10.4},{"p":"f","x":16.4,"y":9.8},{"p":"f","x":14.1,"y":12.7},{"p":"f","x":13.6,"y":14.6},{"p":"f","x":13.7,"y":13.5},{"p":"f","x":14.8,"y":16.7},{"p":"f","x":15.7,"y":16.7},{"p":"f","x":15.5,"y":19.9},{"p":"f","x":15.6,"y":19.4},{"p":"f","x":16.9,"y":19.3},{"p":"f","x":16.6,"y":17.2},{"p":"f","x":15.8,"y":27.9},{"p":"f","x":15.8,"y":25.2},{"p":"f","x":14.9,"y":26.0},{"p":"f","x":14.6,"y":30.4},{"p":"f","x":13.9,"y":28.5},{"p":"f","x":13.9,"y":28.1},{"p":"f","x":17.1,"y":14.1},{"p":"f","x":18.0,"y":15.3},{"p":"f","x":17.8,"y":26.8},{"p":"f","x":18.5,"y":19.9},
{"p":"f","x":18.2,"y":4.6},{"p":"f","x":19.0,"y":5.0},{"p":"f","x":19.8,"y":4.7},{"p":"f","x":20.5,"y":5.2},{"p":"f","x":21.2,"y":4.6},{"p":"f","x":22.4,"y":5.0},{"p":"f","x":23.1,"y":4.7},{"p":"f","x":24.2,"y":5.0},{"p":"f","x":19.5,"y":9.8},{"p":"f","x":20.3,"y":9.4},{"p":"f","x":22.1,"y":10.7},{"p":"f","x":22.3,"y":12.3},{"p":"f","x":24.0,"y":9.4},{"p":"f","x":23.2,"y":15.2},{"p":"f","x":23.9,"y":16.6},{"p":"f","x":22.2,"y":17.6},{"p":"f","x":21.9,"y":21.7},{"p":"f","x":19.8,"y":22.7},{"p":"f","x":19.8,"y":25.8},{"p":"f","x":20.3,"y":28.1},{"p":"f","x":21.0,"y":31.7},{"p":"f","x":22.0,"y":34.2},{"p":"f","x":25.5,"y":24.5},{"p":"f","x":25.3,"y":4.4},{"p":"f","x":26.4,"y":11.1},{"p":"f","x":27.0,"y":11.9},{"p":"f","x":27.8,"y":22.7},{"p":"f","x":28.0,"y":16.9},{"p":"f","x":28.3,"y":15.3},{"p":"f","x":29.2,"y":5.3},{"p":"f","x":29.5,"y":4.9},{"p":"f","x":30.0,"y":16.0},{"p":"f","x":30.9,"y":9.4},{"p":"f","x":31.0,"y":21.5},{"p":"f","x":32.6,"y":4.6},{"p":"f","x":32.7,"y":22.6},{"p":"f","x":33.0,"y":14.5},{"p":"f","x":33.0,"y":13.5},{"p":"f","x":34.2,"y":4.9},{"p":"f","x":34.4,"y":12.7},{"p":"f","x":34.4,"y":19.0},{"p":"f","x":35.2,"y":9.8},{"p":"f","x":35.7,"y":10.8},{"p":"f","x":36.4,"y":40.1},{"p":"f","x":36.7,"y":40.1},{"p":"f","x":36.9,"y":12.1},{"p":"f","x":36.9,"y":11.5},{"p":"f","x":38.1,"y":11.4},{"p":"f","x":38.6,"y":4.8},{"p":"f","x":38.8,"y":4.6},{"p":"f","x":40.1,"y":9.4},{"p":"f","x":40.3,"y":6.5},{"p":"f","x":40.4,"y":30.1},{"p":"f","x":41.7,"y":6.8},{"p":"f","x":43.1,"y":32.8},{"p":"f","x":44.3,"y":16.6},{"p":"f","x":46.5,"y":5.1},{"p":"f","x":48.1,"y":6.2},{"p":"f","x":52.1,"y":4.6},{"p":"f","x":52.3,"y":5.4},{"p":"f","x":52.9,"y":13.8},{"p":"f","x":53.8,"y":22.1},{"p":"f","x":54.5,"y":11.1},{"p":"f","x":60.5,"y":6.0},{"p":"f","x":60.6,"y":18.9},{"p":"f","x":60.8,"y":18.5},{"p":"f","x":70.4,"y":21.9},{"p":"f","x":71.5,"y":5.2},{"p":"f","x":77.4,"y":40.6},{"p":"f","x":79.0,"y":10.3}
]
},
"columns": 3,
"spacing": {"row": 84, "column": 106},
"bounds": "flush",
"center": true,
"resolve": {"scale": {"color": "independent", "shape": "independent"}, "legend": {"color": "independent", "shape": "independent"}},
"concat": [
 {"width": 373, "height": 325, "layer": [
  {"data": {"name": "pdf"}, "transform": [{"filter": "datum.p === 'a'"}],
   "mark": {"type": "point", "filled": false, "strokeWidth": 1.4, "size": 55, "opacity": 1},
   "encoding": {
    "x": {"field": "x", "type": "quantitative", "scale": {"domain": [0, 15], "nice": false, "zero": false}, "axis": {"values": [0, 5, 10, 15], "title": "Degree"}},
    "y": {"field": "y", "type": "quantitative", "scale": {"type": "log", "domain": [0.001, 1], "nice": false}, "axis": {"title": "PDF", "titlePadding": 2, "values": [0.001,0.002,0.003,0.004,0.005,0.006,0.007,0.008,0.009,0.01,0.02,0.03,0.04,0.05,0.06,0.07,0.08,0.09,0.1,0.2,0.3,0.4,0.5,0.6,0.7,0.8,0.9,1],
      "labelExpr": "abs(log(datum.value)/LN10 - round(log(datum.value)/LN10)) < 0.001 ? ['10⁰','10⁻¹','10⁻²','10⁻³','10⁻⁴'][-round(log(datum.value)/LN10)] : ''",
      "gridDash": {"condition": {"test": "abs(log(datum.value)/LN10 - round(log(datum.value)/LN10)) < 0.001", "value": []}, "value": [1, 3]},
      "gridColor": {"condition": {"test": "abs(log(datum.value)/LN10 - round(log(datum.value)/LN10)) < 0.001", "value": "#e1e1e1"}, "value": "#c4c4c4"}}},
    "color": {"field": "s", "type": "nominal", "scale": {"domain": ["RH1", "NT1", "RH2"], "range": ["#ff0000", "#0000ff", "#008000"]},
      "legend": {"title": null, "orient": "top-right", "offset": 9, "strokeColor": "#262626", "fillColor": "#ffffff", "padding": 3, "rowPadding": 4, "symbolOffset": 11, "labelOffset": 11, "symbolSize": 55, "symbolStrokeWidth": 1.4}},
    "shape": {"field": "s", "type": "nominal", "scale": {"domain": ["RH1", "NT1", "RH2"], "range": ["circle", "M-1,-1L1,1M1,-1L-1,1", "square"]},
      "legend": {"title": null, "orient": "top-right", "offset": 9, "strokeColor": "#262626", "fillColor": "#ffffff", "padding": 3, "rowPadding": 4, "symbolOffset": 11, "labelOffset": 11, "symbolSize": 55, "symbolStrokeWidth": 1.4}}
   }},
  {"data": {"values": [{}]}, "mark": {"type": "text", "align": "left", "baseline": "middle", "fontSize": 21, "font": "Liberation Sans", "color": "#000000"},
   "encoding": {"x": {"datum": 0.3}, "y": {"datum": 0.00147}, "text": {"value": "(a)"}}}
 ]},
 {"width": 373, "height": 325, "layer": [
  {"data": {"name": "pdf"}, "transform": [{"filter": "datum.p === 'b'"}],
   "mark": {"type": "point", "filled": false, "strokeWidth": 1.4, "size": 55, "opacity": 1},
   "encoding": {
    "x": {"field": "x", "type": "quantitative", "scale": {"domain": [0, 80], "nice": false}, "axis": {"values": [0, 20, 40, 60, 80], "title": "Weighted degree"}},
    "y": {"field": "y", "type": "quantitative", "scale": {"type": "log", "domain": [0.0001, 1], "nice": false}, "axis": {"title": "PDF", "titlePadding": 2, "values": [0.0001,0.0002,0.0003,0.0004,0.0005,0.0006,0.0007,0.0008,0.0009,0.001,0.002,0.003,0.004,0.005,0.006,0.007,0.008,0.009,0.01,0.02,0.03,0.04,0.05,0.06,0.07,0.08,0.09,0.1,0.2,0.3,0.4,0.5,0.6,0.7,0.8,0.9,1],
      "labelExpr": "abs(log(datum.value)/LN10 - round(log(datum.value)/LN10)) < 0.001 ? ['10⁰','10⁻¹','10⁻²','10⁻³','10⁻⁴'][-round(log(datum.value)/LN10)] : ''",
      "gridDash": {"condition": {"test": "abs(log(datum.value)/LN10 - round(log(datum.value)/LN10)) < 0.001", "value": []}, "value": [1, 3]},
      "gridColor": {"condition": {"test": "abs(log(datum.value)/LN10 - round(log(datum.value)/LN10)) < 0.001", "value": "#e1e1e1"}, "value": "#c4c4c4"}}},
    "color": {"field": "s", "type": "nominal", "scale": {"domain": ["RH1", "NT1", "RH2"], "range": ["#ff0000", "#0000ff", "#008000"]},
      "legend": {"title": null, "orient": "top-right", "offset": 9, "strokeColor": "#262626", "fillColor": "#ffffff", "padding": 3, "rowPadding": 4, "symbolOffset": 11, "labelOffset": 11, "symbolSize": 55, "symbolStrokeWidth": 1.4}},
    "shape": {"field": "s", "type": "nominal", "scale": {"domain": ["RH1", "NT1", "RH2"], "range": ["circle", "M-1,-1L1,1M1,-1L-1,1", "square"]},
      "legend": {"title": null, "orient": "top-right", "offset": 9, "strokeColor": "#262626", "fillColor": "#ffffff", "padding": 3, "rowPadding": 4, "symbolOffset": 11, "labelOffset": 11, "symbolSize": 55, "symbolStrokeWidth": 1.4}}
   }},
  {"data": {"values": [{}]}, "mark": {"type": "text", "align": "left", "baseline": "middle", "fontSize": 21, "font": "Liberation Sans", "color": "#000000"},
   "encoding": {"x": {"datum": 1.1}, "y": {"datum": 0.000157}, "text": {"value": "(b)"}}}
 ]},
 {"width": 373, "height": 309, "layer": [
  {"data": {"name": "pdf"}, "transform": [{"filter": "datum.p === 'c'"}],
   "mark": {"type": "point", "filled": false, "strokeWidth": 1.4, "size": 55, "opacity": 1},
   "encoding": {
    "x": {"field": "x", "type": "quantitative", "scale": {"domain": [4, 12], "nice": false, "zero": false}, "axis": {"values": [4, 6, 8, 10, 12], "title": null}},
    "y": {"field": "y", "type": "quantitative", "scale": {"type": "log", "domain": [0.0001, 1], "nice": false}, "axis": {"title": "PDF", "titlePadding": 2, "values": [0.0001,0.0002,0.0003,0.0004,0.0005,0.0006,0.0007,0.0008,0.0009,0.001,0.002,0.003,0.004,0.005,0.006,0.007,0.008,0.009,0.01,0.02,0.03,0.04,0.05,0.06,0.07,0.08,0.09,0.1,0.2,0.3,0.4,0.5,0.6,0.7,0.8,0.9,1],
      "labelExpr": "abs(log(datum.value)/LN10 - round(log(datum.value)/LN10)) < 0.001 ? ['10⁰','10⁻¹','10⁻²','10⁻³','10⁻⁴'][-round(log(datum.value)/LN10)] : ''",
      "gridDash": {"condition": {"test": "abs(log(datum.value)/LN10 - round(log(datum.value)/LN10)) < 0.001", "value": []}, "value": [1, 3]},
      "gridColor": {"condition": {"test": "abs(log(datum.value)/LN10 - round(log(datum.value)/LN10)) < 0.001", "value": "#e1e1e1"}, "value": "#c4c4c4"}}},
    "color": {"field": "s", "type": "nominal", "scale": {"domain": ["RH1", "NT1", "RH2"], "range": ["#ff0000", "#0000ff", "#008000"]},
      "legend": {"title": null, "orient": "top-right", "offset": 9, "strokeColor": "#262626", "fillColor": "#ffffff", "padding": 3, "rowPadding": 4, "symbolOffset": 11, "labelOffset": 11, "symbolSize": 55, "symbolStrokeWidth": 1.4}},
    "shape": {"field": "s", "type": "nominal", "scale": {"domain": ["RH1", "NT1", "RH2"], "range": ["circle", "M-1,-1L1,1M1,-1L-1,1", "square"]},
      "legend": {"title": null, "orient": "top-right", "offset": 9, "strokeColor": "#262626", "fillColor": "#ffffff", "padding": 3, "rowPadding": 4, "symbolOffset": 11, "labelOffset": 11, "symbolSize": 55, "symbolStrokeWidth": 1.4}}
   }},
  {"data": {"values": [{}]}, "mark": {"type": "text", "align": "left", "baseline": "middle", "fontSize": 21, "font": "Liberation Sans", "color": "#000000"},
   "encoding": {"x": {"datum": 4.15}, "y": {"datum": 0.000156}, "text": {"value": "(c)"}}},
  {"data": {"values": [{}]}, "mark": {"type": "text", "align": "right", "baseline": "alphabetic", "fontSize": 20, "font": "Liberation Sans", "color": "#000000"},
   "encoding": {"x": {"datum": 7.87}, "y": {"datum": 0.0000215}, "text": {"value": "W"}}},
  {"data": {"values": [{}]}, "mark": {"type": "text", "align": "left", "baseline": "alphabetic", "fontSize": 14, "font": "Liberation Sans", "color": "#000000"},
   "encoding": {"x": {"datum": 7.87}, "y": {"datum": 0.000036}, "text": {"value": "pos"}}},
  {"data": {"values": [{}]}, "mark": {"type": "text", "align": "left", "baseline": "alphabetic", "fontSize": 14, "font": "Liberation Sans", "color": "#000000"},
   "encoding": {"x": {"datum": 7.87}, "y": {"datum": 0.0000152}, "text": {"value": "i,j"}}}
 ]},
 {"width": 373, "height": 325, "layer": [
  {"data": {"name": "sc"}, "transform": [{"filter": "datum.p === 'd'"}],
   "mark": {"type": "circle", "size": 9, "color": "#ff0000", "opacity": 1},
   "encoding": {
    "x": {"field": "x", "type": "quantitative", "scale": {"domain": [0, 80], "nice": false}, "axis": {"values": [0, 20, 40, 60, 80], "title": "Weighted degree in RH1"}},
    "y": {"field": "y", "type": "quantitative", "scale": {"domain": [0, 80], "nice": false}, "axis": {"values": [0, 10, 20, 30, 40, 50, 60, 70, 80], "title": "Weighted degree in NT1"}}
   }},
  {"data": {"values": [{}]}, "mark": {"type": "text", "align": "left", "baseline": "middle", "fontSize": 21, "font": "Liberation Sans", "color": "#000000"},
   "encoding": {"x": {"datum": 1.9}, "y": {"datum": 75}, "text": {"value": "(d)"}}}
 ]},
 {"width": 373, "height": 325, "layer": [
  {"data": {"name": "sc"}, "transform": [{"filter": "datum.p === 'e'"}],
   "mark": {"type": "circle", "size": 9, "color": "#ff0000", "opacity": 1},
   "encoding": {
    "x": {"field": "x", "type": "quantitative", "scale": {"domain": [0, 80], "nice": false}, "axis": {"values": [0, 20, 40, 60, 80], "title": "Weighted degree in RH2"}},
    "y": {"field": "y", "type": "quantitative", "scale": {"domain": [0, 80], "nice": false}, "axis": {"values": [0, 10, 20, 30, 40, 50, 60, 70, 80], "title": "Weighted degree in NT1"}}
   }},
  {"data": {"values": [{}]}, "mark": {"type": "text", "align": "left", "baseline": "middle", "fontSize": 21, "font": "Liberation Sans", "color": "#000000"},
   "encoding": {"x": {"datum": 1.9}, "y": {"datum": 75}, "text": {"value": "(e)"}}}
 ]},
 {"width": 373, "height": 325, "layer": [
  {"data": {"name": "sc"}, "transform": [{"filter": "datum.p === 'f'"}],
   "mark": {"type": "circle", "size": 9, "color": "#ff0000", "opacity": 1},
   "encoding": {
    "x": {"field": "x", "type": "quantitative", "scale": {"domain": [0, 80], "nice": false}, "axis": {"values": [0, 20, 40, 60, 80], "title": "Weighted degree in RH1"}},
    "y": {"field": "y", "type": "quantitative", "scale": {"domain": [0, 80], "nice": false}, "axis": {"values": [0, 10, 20, 30, 40, 50, 60, 70, 80], "title": "Weighted degree in RH2"}}
   }},
  {"data": {"values": [{}]}, "mark": {"type": "text", "align": "left", "baseline": "middle", "fontSize": 21, "font": "Liberation Sans", "color": "#000000"},
   "encoding": {"x": {"datum": 1.9}, "y": {"datum": 75}, "text": {"value": "(f)"}}}
 ]}
]
}
